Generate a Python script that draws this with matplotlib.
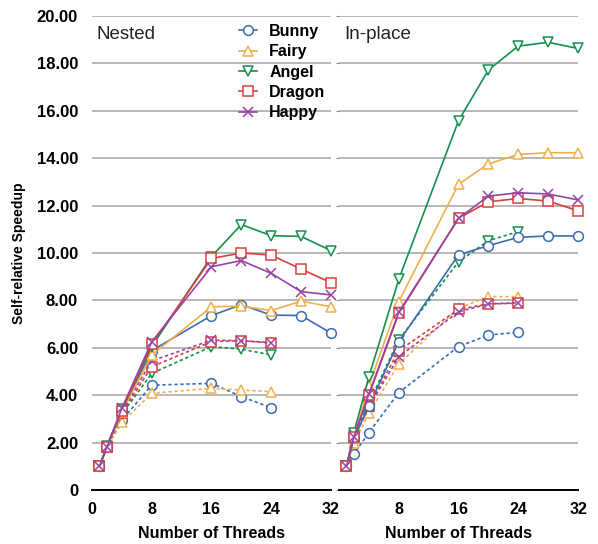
import matplotlib
matplotlib.use("Agg")
import matplotlib.pyplot as plt

plt.rcParams['font.family'] = ['Liberation Sans', 'DejaVu Sans']

# thread counts
threads_full = [1, 2, 4, 8, 16, 20, 24, 28, 32]
threads_half = [1, 2, 4, 8, 16, 20, 24]

models = ['Bunny', 'Fairy', 'Angel', 'Dragon', 'Happy']
colors = ['#3b6db0', '#f2b04c', '#13904c', '#d8403d', '#9645a6']
markers = ['o', '^', 'v', 's', 'x']

# Nested - solid series
nested_bunny = [1.0, 1.8, 3.3, 5.88, 7.36, 7.82, 7.38, 7.36, 6.62]
nested_fairy = [1.0, 1.8, 3.3, 5.7, 7.73, 7.76, 7.57, 7.97, 7.73]
nested_angel = [1.0, 1.85, 3.4, 6.05, 9.85, 11.2, 10.73, 10.7, 10.1]
nested_dragon = [1.0, 1.82, 3.35, 6.15, 9.77, 10.0, 9.91, 9.32, 8.75]
nested_happy = [1.0, 1.82, 3.45, 6.25, 9.42, 9.68, 9.14, 8.37, 8.23]

# Nested - dashed series
nested_bunny_d = [1.0, 1.8, 2.95, 4.42, 4.5, 3.94, 3.47]
nested_fairy_d = [1.0, 1.8, 2.85, 4.08, 4.29, 4.22, 4.15]
nested_angel_d = [1.0, 1.82, 3.2, 4.92, 6.05, 5.94, 5.7]
nested_dragon_d = [1.0, 1.82, 3.25, 5.2, 6.26, 6.3, 6.22]
nested_happy_d = [1.0, 1.82, 3.3, 5.45, 6.32, 6.3, 6.2]

# In-place - solid series
inplace_bunny = [1.0, 2.2, 3.55, 6.26, 9.92, 10.31, 10.66, 10.72, 10.72]
inplace_fairy = [1.0, 2.2, 4.4, 7.95, 12.9, 13.76, 14.16, 14.23, 14.23]
inplace_angel = [1.0, 2.42, 4.78, 8.89, 15.58, 17.72, 18.73, 18.89, 18.63]
inplace_dragon = [1.0, 2.25, 4.0, 7.45, 11.46, 12.16, 12.3, 12.19, 11.78]
inplace_happy = [1.0, 2.25, 4.05, 7.5, 11.46, 12.4, 12.54, 12.49, 12.24]

# In-place - dashed series
inplace_bunny_d = [1.0, 1.52, 2.42, 4.11, 6.05, 6.54, 6.65]
inplace_fairy_d = [1.0, 1.97, 3.24, 5.32, 7.67, 8.16, 8.16]
inplace_angel_d = [1.0, 2.3, 3.68, 6.33, 9.63, 10.52, 10.9]
inplace_dragon_d = [1.0, 2.2, 3.54, 5.88, 7.62, 7.85, 7.88]
inplace_happy_d = [1.0, 2.2, 3.5, 5.62, 7.52, 7.85, 7.9]

nested_solid = [nested_bunny, nested_fairy, nested_angel, nested_dragon, nested_happy]
nested_dash = [nested_bunny_d, nested_fairy_d, nested_angel_d, nested_dragon_d, nested_happy_d]
inplace_solid = [inplace_bunny, inplace_fairy, inplace_angel, inplace_dragon, inplace_happy]
inplace_dash = [inplace_bunny_d, inplace_fairy_d, inplace_angel_d, inplace_dragon_d, inplace_happy_d]

yticks = [0, 2, 4, 6, 8, 10, 12, 14, 16, 18, 20]
ytick_labels = ['0'] + ['%.2f' % v for v in yticks[1:]]

fig = plt.figure(figsize=(5.98, 5.44), dpi=100)
ax1 = fig.add_axes([0.1538, 0.0993, 0.3997, 0.8713])
ax2 = fig.add_axes([0.5669, 0.0993, 0.3997, 0.8713])


def draw_panel(ax, solid, dash, title):
    ax.set_xlim(0, 32)
    ax.set_ylim(0, 20)
    ax.set_yticks(yticks)
    for y in yticks[1:]:
        ax.axhline(y, color='#b8b8b8', lw=1.4, zorder=0)
    for sp in ['top', 'right', 'left']:
        ax.spines[sp].set_visible(False)
    ax.spines['bottom'].set_linewidth(1.4)
    ax.spines['bottom'].set_color('black')
    ax.tick_params(axis='x', length=0, pad=9, labelsize=11.5)
    for i in range(len(models)):
        ax.plot(threads_half, dash[i], linestyle=(0, (2, 1.6)), color=colors[i],
                lw=1.2, marker=markers[i], markersize=7, markerfacecolor='white',
                markeredgewidth=1.1, zorder=3, clip_on=False)
    for i in range(len(models)):
        ax.plot(threads_full, solid[i], linestyle='-', color=colors[i],
                lw=1.2, marker=markers[i], markersize=7, markerfacecolor='white',
                markeredgewidth=1.1, label=models[i], zorder=4, clip_on=False)
    ax.text(0.02, 0.978, title, transform=ax.transAxes, ha='left', va='top',
            fontsize=13.5, color='#222222')
    ax.set_xlabel('Number of Threads', fontsize=11.5, fontweight='bold', labelpad=6)
    for lab in ax.get_xticklabels():
        lab.set_fontweight('bold')


draw_panel(ax1, nested_solid, nested_dash, 'Nested')
draw_panel(ax2, inplace_solid, inplace_dash, 'In-place')

ax1.set_xticks([0, 8, 16, 24, 32])
ax1.set_xticklabels(['0', '8', '16', '24', '32'], fontweight='bold')
ax2.set_xticks([8, 16, 24, 32])
ax2.set_xticklabels(['8', '16', '24', '32'], fontweight='bold')

ax1.set_yticklabels(ytick_labels, fontweight='bold', fontsize=12)
ax1.tick_params(axis='y', length=0, pad=10)
ax2.tick_params(axis='y', length=2, color='#888888', labelleft=False)

ax1.set_ylabel('Self-relative Speedup', fontsize=10, fontweight='bold', labelpad=8)

leg = ax1.legend(loc='upper left', bbox_to_anchor=(0.615, 0.983), frameon=False,
                 borderpad=0, borderaxespad=0, handlelength=1.1, handletextpad=0.8,
                 labelspacing=0.33, prop={'weight': 'bold', 'size': 11.5})

fig.savefig('out.png', dpi=100)
